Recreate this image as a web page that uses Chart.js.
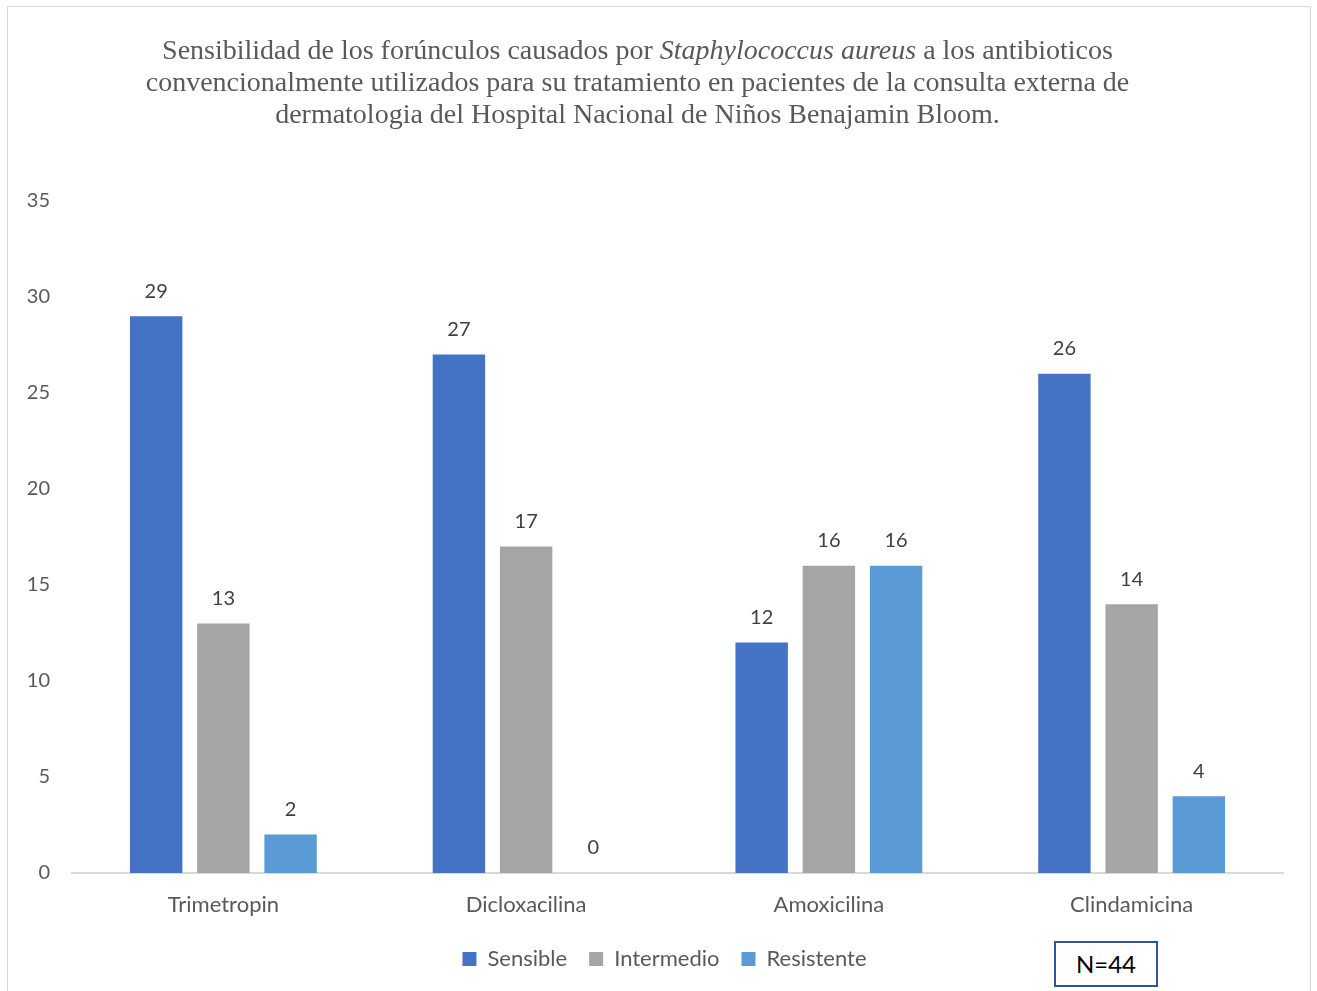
<!DOCTYPE html>
<html>
<head>
<meta charset="utf-8">
<script src="https://cdn.jsdelivr.net/npm/chart.js@4"></script>
<style>
  body { margin: 0; background: #fff; }
  #wrap { position: relative; width: 1317px; height: 991px; }
  #frame { position: absolute; left: 7px; top: 6px; width: 1304px; height: 1000px; border: 1px solid #d9d9d9; box-sizing: border-box; }
  #title { position: absolute; left: 0; top: 34px; width: 1275px; text-align: center;
           font-family: "Liberation Serif", serif; font-size: 28px; line-height: 32px; color: #595959; }
  #nbox { position: absolute; left: 1054px; top: 941px; width: 104px; height: 46px; box-sizing: border-box;
          border: 2px solid #2f5597; font-family: "Lato", sans-serif; font-size: 24px; color: #000;
          text-align: center; line-height: 42px; background: #fff; }
  canvas { position: absolute; left: 0; top: 0; }
</style>
</head>
<body>
<div id="wrap">
  <div id="frame"></div>
  <canvas id="bar-chart" width="1317" height="991"></canvas>
  <div id="title">Sensibilidad de los forúnculos causados por <i>Staphylococcus aureus</i> a los antibioticos<br>convencionalmente utilizados para su tratamiento en pacientes de la consulta externa de<br>dermatologia del Hospital Nacional de Niños Benajamin Bloom.</div>
  <div id="nbox">N=44</div>
</div>
<script>
"use strict";

// Kategorier och värden
const antibiotics = ["Trimetropin", "Dicloxacilina", "Amoxicilina", "Clindamicina"];
const sensible = [29, 27, 12, 26];
const intermedio = [13, 17, 16, 14];
const resistente = [2, 0, 16, 4];
const yTicks = [0, 5, 10, 15, 20, 25, 30, 35];

// Plugin som skriver värdet ovanför varje stapel
const valueLabels = {
    id: 'valueLabels',
    afterDatasetsDraw(chart) {
        const ctx = chart.ctx;
        ctx.save();
        ctx.font = '20px Lato, sans-serif';
        ctx.fillStyle = '#404040';
        ctx.textAlign = 'center';
        ctx.textBaseline = 'middle';
        chart.data.datasets.forEach((ds, i) => {
            chart.getDatasetMeta(i).data.forEach((bar, j) => {
                ctx.fillText(ds.data[j], bar.x, bar.y - 25);
            });
        });
        ctx.restore();
    }
};

// Flyttar förklaringen lite åt höger
const shiftLegend = {
    id: 'shiftLegend',
    afterLayout(chart) {
        const lg = chart.legend;
        if (lg) {
            lg.left += 18;
            lg.right += 18;
        }
    }
};

new Chart(document.getElementById('bar-chart'), {
    type: 'bar',
    data: {
        labels: antibiotics,
        datasets: [
            { label: 'Sensible', data: sensible, backgroundColor: '#4472c4' },
            { label: 'Intermedio', data: intermedio, backgroundColor: '#a5a5a5' },
            { label: 'Resistente', data: resistente, backgroundColor: '#5b9bd5' }
        ]
    },
    options: {
        responsive: false,
        animation: false,
        layout: { padding: { left: 10, right: 34, top: 201, bottom: 11 } },
        datasets: { bar: { barPercentage: 0.78, categoryPercentage: 0.666 } },
        plugins: {
            legend: {
                position: 'bottom',
                labels: {
                    boxWidth: 14, boxHeight: 14, padding: 22,
                    color: '#595959', font: { family: 'Lato', size: 22 }
                }
            },
            tooltip: { enabled: false }
        },
        scales: {
            y: {
                min: 0, max: 35,
                afterBuildTicks: s => { s.ticks = yTicks.map(v => ({ value: v })); },
                afterFit: s => { s.width = 62; },
                grid: { display: false },
                border: { display: false },
                ticks: { color: '#595959', font: { family: 'Lato', size: 20 }, padding: 14 }
            },
            x: {
                afterFit: s => { s.height = 53; },
                grid: { display: false },
                border: { color: '#d9d9d9', width: 2 },
                ticks: { color: '#595959', font: { family: 'Lato', size: 22 }, padding: 11 }
            }
        }
    },
    plugins: [valueLabels, shiftLegend]
});
</script>
</body>
</html>
